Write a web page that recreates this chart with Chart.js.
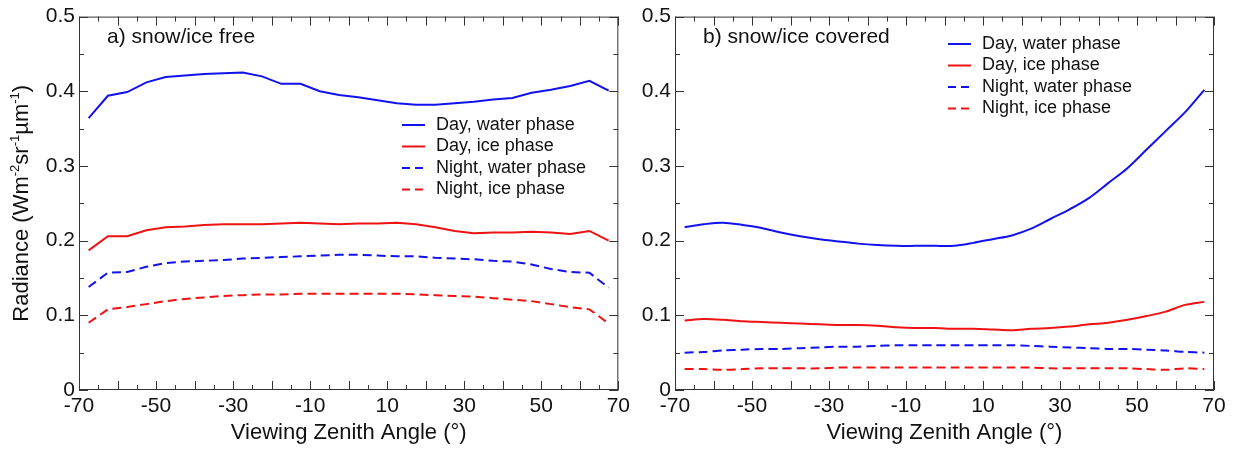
<!DOCTYPE html>
<html>
<head>
<meta charset="utf-8">
<script src="https://cdn.jsdelivr.net/npm/chart.js@4.4.1/dist/chart.umd.min.js"></script>
<style>
body { margin: 0; background: #fff; }
#wrap { position: relative; width: 1234px; height: 454px; }
.panel { position: absolute; top: 0; }
</style>
</head>
<body>
<div id="wrap">
  <canvas id="chart-a" class="panel" style="left:0" width="634" height="454"></canvas>
  <canvas id="chart-b" class="panel" style="left:634px" width="600" height="454"></canvas>
</div>
<script>
// viewing zenith angle bins (deg)
const viewAngles = [-67.5, -62.5, -57.5, -52.5, -47.5, -42.5, -37.5, -32.5, -27.5, -22.5, -17.5, -12.5, -7.5, -2.5,
                    2.5, 7.5, 12.5, 17.5, 22.5, 27.5, 32.5, 37.5, 42.5, 47.5, 52.5, 57.5, 62.5, 67.5];

const seriesLabels = ['Day, water phase', 'Day, ice phase', 'Night, water phase', 'Night, ice phase'];

// a) snow/ice free
const freeDayWater = [0.364, 0.394, 0.399, 0.412, 0.419, 0.421, 0.423, 0.424, 0.425, 0.420, 0.410, 0.410, 0.400, 0.395,
                      0.392, 0.388, 0.384, 0.382, 0.382, 0.384, 0.386, 0.389, 0.391, 0.398, 0.402, 0.407, 0.414, 0.401];
const freeDayIce = [0.187, 0.206, 0.206, 0.214, 0.218, 0.219, 0.221, 0.222, 0.222, 0.222, 0.223, 0.224, 0.223, 0.222,
                    0.223, 0.223, 0.224, 0.222, 0.218, 0.213, 0.210, 0.211, 0.211, 0.212, 0.211, 0.209, 0.213, 0.200];
const freeNightWater = [0.138, 0.157, 0.158, 0.165, 0.170, 0.172, 0.173, 0.174, 0.176, 0.177, 0.178, 0.179, 0.180, 0.181,
                        0.181, 0.180, 0.179, 0.179, 0.177, 0.176, 0.175, 0.173, 0.172, 0.168, 0.162, 0.158, 0.157, 0.137];
const freeNightIce = [0.090, 0.108, 0.111, 0.115, 0.119, 0.122, 0.124, 0.126, 0.127, 0.128, 0.128, 0.129, 0.129, 0.129,
                      0.129, 0.129, 0.129, 0.128, 0.127, 0.126, 0.125, 0.123, 0.121, 0.119, 0.115, 0.111, 0.108, 0.089];

// b) snow/ice covered
const coveredDayWater = [0.218, 0.222, 0.224, 0.221, 0.217, 0.211, 0.206, 0.202, 0.199, 0.196, 0.194, 0.193, 0.193, 0.193,
                         0.193, 0.197, 0.202, 0.207, 0.216, 0.229, 0.242, 0.257, 0.277, 0.297, 0.322, 0.347, 0.372, 0.402];
const coveredDayIce = [0.093, 0.095, 0.094, 0.092, 0.091, 0.090, 0.089, 0.088, 0.087, 0.087, 0.086, 0.084, 0.083, 0.083,
                       0.082, 0.082, 0.081, 0.080, 0.082, 0.083, 0.085, 0.088, 0.090, 0.094, 0.099, 0.105, 0.114, 0.118];
const coveredNightWater = [0.050, 0.051, 0.053, 0.054, 0.055, 0.055, 0.056, 0.057, 0.058, 0.058, 0.059, 0.060, 0.060, 0.060,
                           0.060, 0.060, 0.060, 0.060, 0.059, 0.058, 0.057, 0.056, 0.055, 0.055, 0.054, 0.053, 0.051, 0.050];
const coveredNightIce = [0.028, 0.028, 0.027, 0.028, 0.029, 0.029, 0.029, 0.029, 0.030, 0.030, 0.030, 0.030, 0.030, 0.030,
                         0.030, 0.030, 0.030, 0.030, 0.030, 0.029, 0.029, 0.029, 0.029, 0.029, 0.028, 0.027, 0.029, 0.028];

const xTickLabels = [-70, -50, -30, -10, 10, 30, 50, 70];
const yTickLabels = [0, 0.1, 0.2, 0.3, 0.4, 0.5];

const FONT = "'Liberation Sans', Arial, Helvetica, sans-serif";
const BLUE = '#1212ee';
const RED = '#ee1212';

function makeDataset(label, values, color, dashed, tension){
    return {
        label: label,
        data: viewAngles.map((a, i) => ({x: a, y: values[i]})),
        borderColor: color,
        borderWidth: 2,
        borderDash: dashed ? [9, 5] : [],
        pointRadius: 0,
        tension: tension,
        fill: false
    }
}

// box, inward ticks, panel label and legend
const panelDecor = {
    id: 'panelDecor',
    afterDraw(chart, args, opts){
        const {ctx, chartArea: a, scales: {x, y}} = chart;
        ctx.save();
        ctx.strokeStyle = '#333';
        ctx.lineWidth = 1;
        ctx.strokeRect(a.left + 0.5, a.top + 0.5, a.width - 1, a.height - 1);
        ctx.beginPath();
        for(let v = -70; v <= 70; v += 5){
            const px = Math.round(x.getPixelForValue(v)) + 0.5;
            const len = Math.abs(v) % 10 === 0 ? 9 : 5;
            ctx.moveTo(px, a.bottom); ctx.lineTo(px, a.bottom - len);
            ctx.moveTo(px, a.top); ctx.lineTo(px, a.top + len);
        }
        for(let k = 0; k <= 10; k++){
            const py = Math.round(y.getPixelForValue(k * 0.05)) + 0.5;
            const len = k % 2 === 0 ? 9 : 5;
            ctx.moveTo(a.left, py); ctx.lineTo(a.left + len, py);
            ctx.moveTo(a.right, py); ctx.lineTo(a.right - len, py);
        }
        ctx.stroke();

        ctx.fillStyle = '#111';
        ctx.textBaseline = 'middle';
        ctx.textAlign = 'left';
        ctx.font = '21px ' + FONT;
        ctx.fillText(opts.label, a.left + 28, 37);

        ctx.font = '18px ' + FONT;
        chart.data.datasets.forEach((ds, i) => {
            const ly = opts.legendY + i * opts.legendGap;
            ctx.save();
            ctx.strokeStyle = ds.borderColor;
            ctx.lineWidth = 2;
            ctx.setLineDash(ds.borderDash.length ? [8, 5] : []);
            ctx.beginPath();
            ctx.moveTo(opts.legendX, ly);
            ctx.lineTo(opts.legendX + 23, ly);
            ctx.stroke();
            ctx.restore();
            ctx.fillText(ds.label, opts.legendX + 34, ly);
        });

        if(opts.yTitle){
            ctx.translate(22, (a.top + a.bottom) / 2);
            ctx.rotate(-Math.PI / 2);
            const parts = [['Radiance (Wm', 0], ['-2', 1], ['sr', 0], ['-1', 1], ['\u00b5m', 0], ['-1', 1], [')', 0]];
            const big = '22px ' + FONT, small = '13px ' + FONT;
            let total = 0;
            parts.forEach(p => { ctx.font = p[1] ? small : big; total += ctx.measureText(p[0]).width; });
            let cx = -total / 2;
            parts.forEach(p => {
                ctx.font = p[1] ? small : big;
                ctx.fillText(p[0], cx, p[1] ? -7 : 0);
                cx += ctx.measureText(p[0]).width;
            });
        }
        ctx.restore();
    }
};

function buildChart(id, series, tension, panel){
    const datasets = [
        makeDataset(seriesLabels[0], series[0], BLUE, false, tension),
        makeDataset(seriesLabels[1], series[1], RED, false, tension),
        makeDataset(seriesLabels[2], series[2], BLUE, true, tension),
        makeDataset(seriesLabels[3], series[3], RED, true, tension)
    ];
    new Chart(document.getElementById(id), {
        type: 'line',
        data: {datasets: datasets},
        plugins: [panelDecor],
        options: {
            responsive: false,
            animation: false,
            devicePixelRatio: 1,
            layout: {padding: {top: 12, right: panel.padRight, bottom: 0, left: 0}},
            plugins: {
                legend: {display: false},
                tooltip: {enabled: false},
                panelDecor: panel.decor
            },
            scales: {
                x: {
                    type: 'linear', min: -70, max: 70,
                    afterBuildTicks: s => { s.ticks = xTickLabels.map(v => ({value: v})); },
                    afterFit: s => { s.height = 64; },
                    grid: {display: false, drawTicks: false},
                    border: {display: false},
                    ticks: {color: '#111', font: {family: FONT, size: 21}, padding: 4, maxRotation: 0, autoSkip: false},
                    title: {display: true, text: 'Viewing Zenith Angle (\u00b0)', color: '#111',
                            font: {family: FONT, size: 22}, padding: {top: 0, bottom: 8}}
                },
                y: {
                    type: 'linear', min: 0, max: 0.5,
                    afterBuildTicks: s => { s.ticks = yTickLabels.map(v => ({value: v})); },
                    afterFit: s => { s.width = panel.axisWidth; },
                    grid: {display: false, drawTicks: false},
                    border: {display: false},
                    ticks: {color: '#111', font: {family: FONT, size: 21}, padding: 4,
                            callback: v => v === 0 ? '0' : v.toFixed(1)}
                }
            }
        }
    });
}

buildChart('chart-a', [freeDayWater, freeDayIce, freeNightWater, freeNightIce], 0, {
    padRight: 14, axisWidth: 79,
    decor: {label: 'a) snow/ice free', legendX: 402, legendY: 125, legendGap: 21.5, yTitle: true}
});
buildChart('chart-b', [coveredDayWater, coveredDayIce, coveredNightWater, coveredNightIce], 0.3, {
    padRight: 20, axisWidth: 41,
    decor: {label: 'b) snow/ice covered', legendX: 314, legendY: 44, legendGap: 21.5, yTitle: false}
});
</script>
</body>
</html>
